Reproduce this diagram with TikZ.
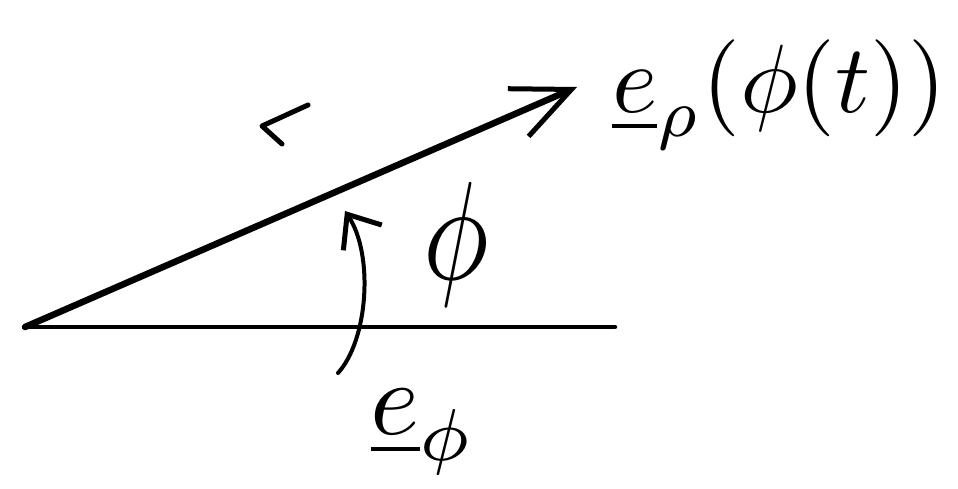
\documentclass[tikz,border=0pt]{standalone}
\usepackage{amsmath}
\usepackage{graphicx}
\usetikzlibrary{arrows.meta}
\tikzset{
  base/.style={line width=4.5pt, line cap=round},
  vec/.style={line width=6.5pt, line cap=round,
              -{Straight Barb[length=58pt, width=52pt, line width=5pt]}},
  turn/.style={line width=4pt, line cap=round,
               -{Straight Barb[length=28pt, width=46pt, line width=5pt]}},
  lbl/.style={inner sep=0pt},
}

\begin{document}
\begin{tikzpicture}[x=1pt, y=-1pt]
        \useasboundingbox (0,0) rectangle (958,488);
        \coordinate (o) at (25,327);
        \coordinate (xend) at (615,327);
        \coordinate (tip) at (577,87);
        \coordinate (ts) at (338,373);
        \coordinate (te) at (345,211);
        \draw[base](o)--(xend);
        \draw[vec](o)--(tip);
        \draw[turn](ts) .. controls (368,340) and (374,255) .. (te);
        % small tick
        \draw[line width=5pt, line cap=round, line join=round]
             (308,105)--(262,126)--(282,144);
        \node[lbl, anchor=base west]
             (erho) at (612,112) {\scalebox{9.7}{$\underline{e}_{\rho}(\phi(t))$}};
        \node[lbl]
             (phi) at (456,244) {\scalebox{11}[14]{$\phi$}};
        \node[lbl]
             (ephi) at (423,432) {\scalebox{10.5}{$\underline{e}_{\phi}$}};
      \end{tikzpicture}
\end{document}
